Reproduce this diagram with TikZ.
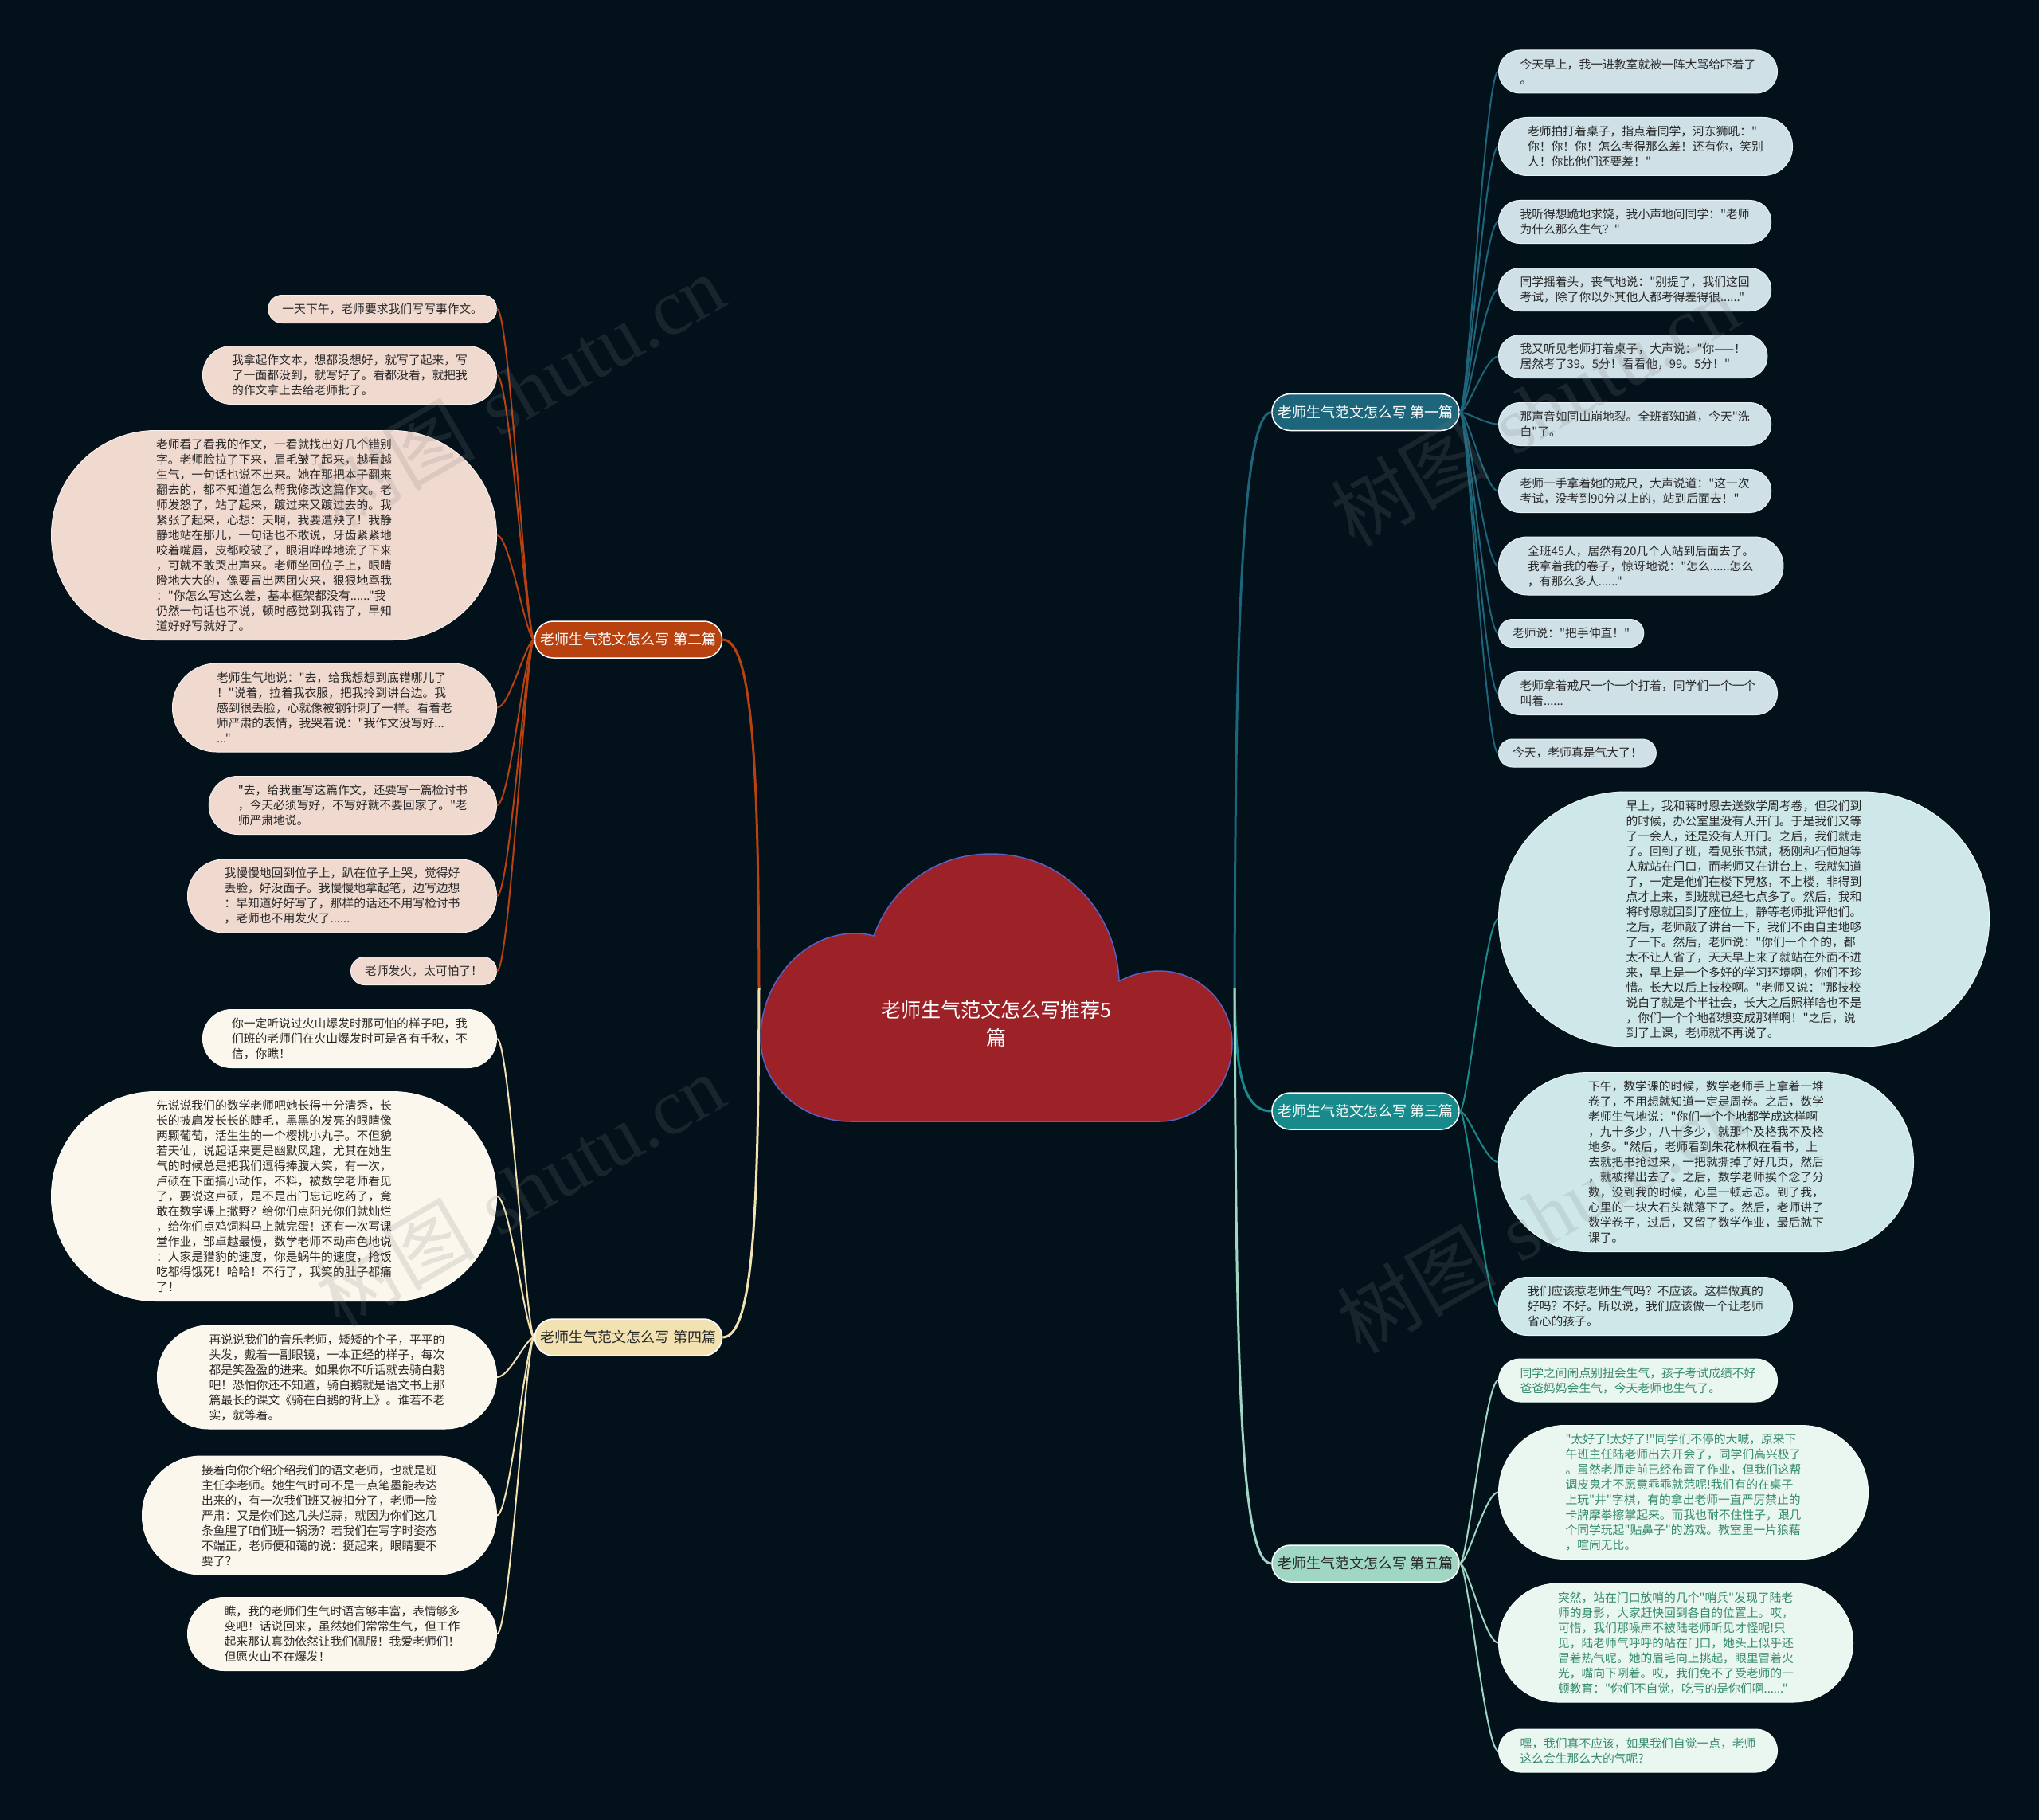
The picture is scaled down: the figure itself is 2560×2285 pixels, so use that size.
\documentclass[tikz,border=0pt]{standalone}
\usepackage{fontspec}
\newfontfamily\cjk{Noto Sans CJK SC}
\newfontfamily\wmserif{Liberation Serif}
\usetikzlibrary{shapes.misc}
\definecolor{bg}{RGB}{3,17,27}
\definecolor{cA}{RGB}{29,101,122}
\definecolor{cAleaf}{RGB}{207,224,230}
\definecolor{cC}{RGB}{24,138,140}
\definecolor{cCleaf}{RGB}{206,232,234}
\definecolor{cE}{RGB}{160,214,196}
\definecolor{cEleaf}{RGB}{234,246,240}
\definecolor{cEtext}{RGB}{52,140,108}
\definecolor{cB}{RGB}{184,66,15}
\definecolor{cBleaf}{RGB}{240,218,208}
\definecolor{cD}{RGB}{242,226,178}
\definecolor{cDleaf}{RGB}{251,247,236}
\definecolor{txt}{RGB}{40,40,40}
\definecolor{cloudred}{RGB}{156,34,40}
\definecolor{cloudedge}{RGB}{90,95,192}
\tikzset{
  leafbase/.style={rectangle, inner ysep=0pt, align=left,
    font=\cjk\fontsize{14.8}{19}\selectfont, line width=1pt},
  hh/.style={minimum height=#1, inner xsep=#1/2, rounded corners=#1/2-0.3},
  rleaf/.style={leafbase, anchor=west},
  lleaf/.style={leafbase, anchor=east},
  leafA/.style={rleaf, fill=cAleaf, draw=white!55!cAleaf, text=txt},
  leafC/.style={rleaf, fill=cCleaf, draw=white!55!cCleaf, text=txt},
  leafE/.style={rleaf, fill=cEleaf, draw=white!55!cEleaf, text=cEtext},
  leafB/.style={lleaf, fill=cBleaf, draw=white!55!cBleaf, text=txt},
  leafD/.style={lleaf, fill=cDleaf, draw=white!55!cDleaf, text=txt},
  branchbox/.style={rounded rectangle, minimum height=46, inner xsep=6pt, inner ysep=0pt,
    font=\cjk\fontsize{18}{22}\selectfont, draw=white, line width=1.5pt},
  thin/.style={line width=2pt},
  thick/.style={line width=3pt},
  wm/.style={text=gray, opacity=0.18, font=\fontsize{100}{110}\selectfont, rotate=30}
}
\begin{document}
\begin{tikzpicture}[x=1pt,y=-1pt]
\fill[bg] (0,0) rectangle (2560,2285);
\useasboundingbox (0,0) rectangle (2560,2285);

% branch nodes
\node[branchbox, fill=cA, text=white] (B1) at (1714.5,517.5) {老师生气范文怎么写 第一篇};
\node[branchbox, fill=cC, text=white] (B3) at (1714.5,1395) {老师生气范文怎么写 第三篇};
\node[branchbox, fill=cE, text=txt] (B5) at (1714.5,1963) {老师生气范文怎么写 第五篇};
\node[branchbox, fill=cB, text=white] (B2) at (789,803) {老师生气范文怎么写 第二篇};
\node[branchbox, fill=cD, text=txt] (B4) at (789,1679) {老师生气范文怎么写 第四篇};

% leaves branch 1
\node[leafA, hh=54] (L1) at (1881,90) {今天早上，我一进教室就被一阵大骂给吓着了\\。};
\node[leafA, hh=73] (L2) at (1881,184) {老师拍打着桌子，指点着同学，河东狮吼："\\你！你！你！怎么考得那么差！还有你，笑别\\人！你比他们还要差！"};
\node[leafA, hh=54] (L3) at (1881,278.5) {我听得想跪地求饶，我小声地问同学："老师\\为什么那么生气？"};
\node[leafA, hh=54] (L4) at (1881,363.5) {同学摇着头，丧气地说："别提了，我们这回\\考试，除了你以外其他人都考得差得很......"};
\node[leafA, hh=54] (L5) at (1881,447.5) {我又听见老师打着桌子，大声说："你——！\\居然考了39。5分！看看他，99。5分！"};
\node[leafA, hh=54] (L6) at (1881,532.5) {那声音如同山崩地裂。全班都知道，今天"洗\\白"了。};
\node[leafA, hh=54] (L7) at (1881,616.5) {老师一手拿着她的戒尺，大声说道："这一次\\考试，没考到90分以上的，站到后面去！"};
\node[leafA, hh=73] (L8) at (1881,710.5) {全班45人，居然有20几个人站到后面去了。\\我拿着我的卷子，惊讶地说："怎么......怎么\\，有那么多人......"};
\node[leafA, hh=35] (L9) at (1881,795) {老师说："把手伸直！"};
\node[leafA, hh=54] (L10) at (1881,870.5) {老师拿着戒尺一个一个打着，同学们一个一个\\叫着......};
\node[leafA, hh=35] (L11) at (1881,945.5) {今天，老师真是气大了！};

% leaves branch 3
\node[leafC, hh=320] (R1) at (1881,1154) {早上，我和蒋时恩去送数学周考卷，但我们到\\的时候，办公室里没有人开门。于是我们又等\\了一会人，还是没有人开门。之后，我们就走\\了。回到了班，看见张书斌，杨刚和石恒旭等\\人就站在门口，而老师又在讲台上，我就知道\\了，一定是他们在楼下晃悠，不上楼，非得到\\点才上来，到班就已经七点多了。然后，我和\\将时恩就回到了座位上，静等老师批评他们。\\之后，老师敲了讲台一下，我们不由自主地哆\\了一下。然后，老师说："你们一个个的，都\\太不让人省了，天天早上来了就站在外面不进\\来，早上是一个多好的学习环境啊，你们不珍\\惜。长大以后上技校啊。"老师又说："那技校\\说白了就是个半社会，长大之后照样啥也不是\\，你们一个个地都想变成那样啊！"之后，说\\到了上课，老师就不再说了。};
\node[leafC, hh=225] (R2) at (1881,1459) {下午，数学课的时候，数学老师手上拿着一堆\\卷了，不用想就知道一定是周卷。之后，数学\\老师生气地说："你们一个个地都学成这样啊\\，九十多少，八十多少，就那个及格我不及格\\地多。"然后，老师看到朱花林枫在看书，上\\去就把书抢过来，一把就撕掉了好几页，然后\\，就被撵出去了。之后，数学老师挨个念了分\\数，没到我的时候，心里一顿忐忑。到了我，\\心里的一块大石头就落下了。然后，老师讲了\\数学卷子，过后，又留了数学作业，最后就下\\课了。};
\node[leafC, hh=73] (R3) at (1881,1640) {我们应该惹老师生气吗？不应该。这样做真的\\好吗？不好。所以说，我们应该做一个让老师\\省心的孩子。};

% leaves branch 5
\node[leafE, hh=54] (S1) at (1881,1733) {同学之间闹点别扭会生气，孩子考试成绩不好\\爸爸妈妈会生气，今天老师也生气了。};
\node[leafE, hh=168] (S2) at (1881,1873.5) {"太好了!太好了!"同学们不停的大喊，原来下\\午班主任陆老师出去开会了，同学们高兴极了\\。虽然老师走前已经布置了作业，但我们这帮\\调皮鬼才不愿意乖乖就范呢!我们有的在桌子\\上玩"井"字棋，有的拿出老师一直严厉禁止的\\卡牌摩拳擦掌起来。而我也耐不住性子，跟几\\个同学玩起"贴鼻子"的游戏。教室里一片狼藉\\，喧闹无比。};
\node[leafE, hh=149] (S3) at (1881,2062.5) {突然，站在门口放哨的几个"哨兵"发现了陆老\\师的身影，大家赶快回到各自的位置上。哎，\\可惜，我们那噪声不被陆老师听见才怪呢!只\\见，陆老师气呼呼的站在门口，她头上似乎还\\冒着热气呢。她的眉毛向上挑起，眼里冒着火\\光，嘴向下咧着。哎，我们免不了受老师的一\\顿教育："你们不自觉，吃亏的是你们啊......"};
\node[leafE, hh=54] (S4) at (1881,2198) {嘿，我们真不应该，如果我们自觉一点，老师\\这么会生那么大的气呢?};

% leaves branch 2
\node[leafB, hh=35] (P1) at (624,388) {一天下午，老师要求我们写写事作文。};
\node[leafB, hh=73] (P2) at (624,471) {我拿起作文本，想都没想好，就写了起来，写\\了一面都没到，就写好了。看都没看，就把我\\的作文拿上去给老师批了。};
\node[leafB, hh=263] (P3) at (624,672) {老师看了看我的作文，一看就找出好几个错别\\字。老师脸拉了下来，眉毛皱了起来，越看越\\生气，一句话也说不出来。她在那把本子翻来\\翻去的，都不知道怎么帮我修改这篇作文。老\\师发怒了，站了起来，踱过来又踱过去的。我\\紧张了起来，心想：天啊，我要遭殃了！我静\\静地站在那儿，一句话也不敢说，牙齿紧紧地\\咬着嘴唇，皮都咬破了，眼泪哗哗地流了下来\\，可就不敢哭出声来。老师坐回位子上，眼睛\\瞪地大大的，像要冒出两团火来，狠狠地骂我\\："你怎么写这么差，基本框架都没有......"我\\仍然一句话也不说，顿时感觉到我错了，早知\\道好好写就好了。};
\node[leafB, hh=111] (P4) at (624,888.5) {老师生气地说："去，给我想想到底错哪儿了\\！"说着，拉着我衣服，把我拎到讲台边。我\\感到很丢脸，心就像被钢针刺了一样。看着老\\师严肃的表情，我哭着说："我作文没写好...\\..."};
\node[leafB, hh=73] (P5) at (624,1011) {"去，给我重写这篇作文，还要写一篇检讨书\\，今天必须写好，不写好就不要回家了。"老\\师严肃地说。};
\node[leafB, hh=92] (P6) at (624,1125) {我慢慢地回到位子上，趴在位子上哭，觉得好\\丢脸，好没面子。我慢慢地拿起笔，边写边想\\：早知道好好写了，那样的话还不用写检讨书\\，老师也不用发火了......};
\node[leafB, hh=35] (P7) at (624,1219) {老师发火，太可怕了！};

% leaves branch 4
\node[leafD, hh=73] (Q1) at (624,1304) {你一定听说过火山爆发时那可怕的样子吧，我\\们班的老师们在火山爆发时可是各有千秋，不\\信，你瞧！};
\node[leafD, hh=263] (Q2) at (624,1502) {先说说我们的数学老师吧她长得十分清秀，长\\长的披肩发长长的睫毛，黑黑的发亮的眼睛像\\两颗葡萄，活生生的一个樱桃小丸子。不但貌\\若天仙，说起话来更是幽默风趣，尤其在她生\\气的时候总是把我们逗得捧腹大笑，有一次，\\卢硕在下面搞小动作，不料，被数学老师看见\\了，要说这卢硕，是不是出门忘记吃药了，竟\\敢在数学课上撒野？给你们点阳光你们就灿烂\\，给你们点鸡饲料马上就完蛋！还有一次写课\\堂作业，邹卓越最慢，数学老师不动声色地说\\：人家是猎豹的速度，你是蜗牛的速度，抢饭\\吃都得饿死！哈哈！不行了，我笑的肚子都痛\\了！};
\node[leafD, hh=130] (Q3) at (624,1729) {再说说我们的音乐老师，矮矮的个子，平平的\\头发，戴着一副眼镜，一本正经的样子，每次\\都是笑盈盈的进来。如果你不听话就去骑白鹅\\吧！恐怕你还不知道，骑白鹅就是语文书上那\\篇最长的课文《骑在白鹅的背上》。谁若不老\\实，就等着。};
\node[leafD, hh=149] (Q4) at (624,1902.5) {接着向你介绍介绍我们的语文老师，也就是班\\主任李老师。她生气时可不是一点笔墨能表达\\出来的，有一次我们班又被扣分了，老师一脸\\严肃：又是你们这几头烂蒜，就因为你们这几\\条鱼腥了咱们班一锅汤？若我们在写字时姿态\\不端正，老师便和蔼的说：挺起来，眼睛要不\\要了？};
\node[leafD, hh=92] (Q5) at (624,2051.5) {瞧，我的老师们生气时语言够丰富，表情够多\\变吧！话说回来，虽然她们常常生气，但工作\\起来那认真劲依然让我们佩服！我爱老师们！\\但愿火山不在爆发！};

% connectors leaves
\foreach \n in {L1,L2,L3,L4,L5,L6,L7,L8,L9,L10,L11}
  \draw[thin, cA] (B1.east) .. controls +(10,0) and +(-16,0) .. (\n.west);
\foreach \n in {R1,R2,R3}
  \draw[thin, cC] (B3.east) .. controls +(10,0) and +(-16,0) .. (\n.west);
\foreach \n in {S1,S2,S3,S4}
  \draw[thin, cE] (B5.east) .. controls +(10,0) and +(-16,0) .. (\n.west);
\foreach \n in {P1,P2,P3,P4,P5,P6,P7}
  \draw[thin, cB] (B2.west) .. controls +(-10,0) and +(16,0) .. (\n.east);
\foreach \n in {Q1,Q2,Q3,Q4,Q5}
  \draw[thin, cD] (B4.west) .. controls +(-10,0) and +(16,0) .. (\n.east);

% cloud connectors
\coordinate (cR) at (1550,1240);
\coordinate (cL) at (953,1240);
\draw[thick, cA] (cR) .. controls (1551,900) and (1554,517.5) .. (B1.west);
\draw[thick, cC] (cR) .. controls (1551,1330) and (1556,1395) .. (B3.west);
\draw[thick, cE] (cR) .. controls (1552,1700) and (1556,1963) .. (B5.west);
\draw[thick, cB] (cL) .. controls (952,1000) and (948,803) .. (B2.east);
\draw[thick, cD] (cL) .. controls (952,1500) and (948,1679) .. (B4.east);

% cloud
\path[fill=cloudred, draw=cloudedge, line width=1.5pt]
 (1068,1408) .. controls (1005,1408) and (955,1362) .. (955,1303)
 .. controls (955,1232) and (1010,1172) .. (1072,1172)
 .. controls (1082,1172) and (1090,1173) .. (1097,1175)
 .. controls (1120,1112) and (1176,1072) .. (1244,1072)
 .. controls (1336,1072) and (1402,1145) .. (1405,1232)
 .. controls (1420,1224) and (1436,1219) .. (1456,1219)
 .. controls (1506,1219) and (1547,1260) .. (1547,1310)
 .. controls (1547,1364) and (1506,1408) .. (1456,1408)
 -- cycle;
\node[text=white, align=center, font=\cjk\fontsize{25}{35}\selectfont] (root) at (1251,1285) {老师生气范文怎么写推荐5\\篇};

% watermarks
\node[wm] (w1) at (653,490) {{\cjk 树图} {\wmserif shutu.cn}};
\node[wm] (w2) at (653,1494) {{\cjk 树图} {\wmserif shutu.cn}};
\node[wm] (w3) at (1927,514) {{\cjk 树图} {\wmserif shutu.cn}};
\node[wm] (w4) at (1935,1527) {{\cjk 树图} {\wmserif shutu.cn}};
\end{tikzpicture}
\end{document}
